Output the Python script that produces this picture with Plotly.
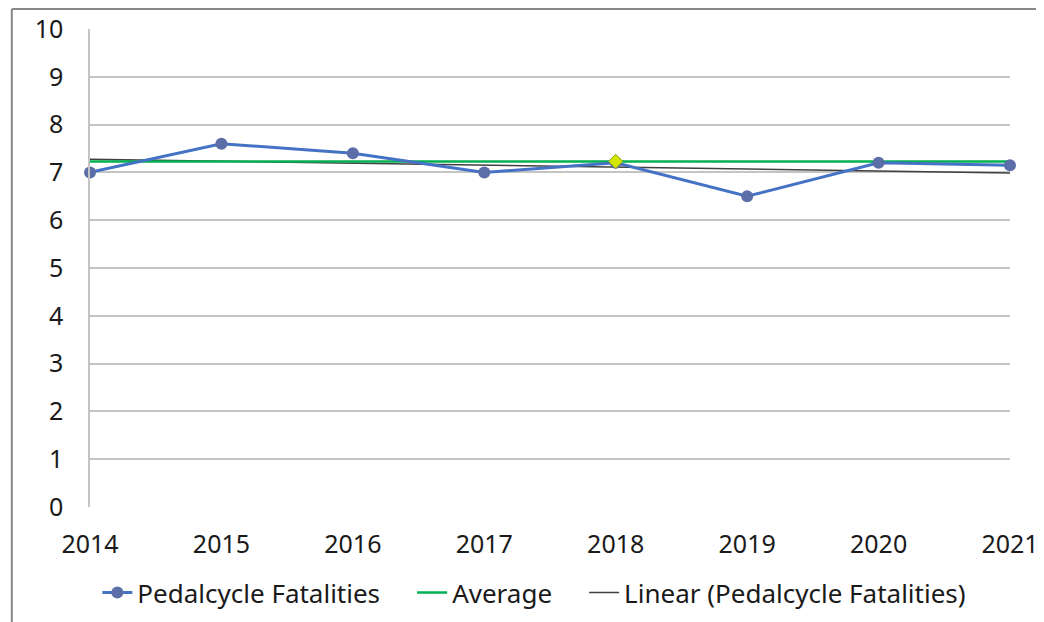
import numpy as np
import plotly.graph_objects as go

years = [2014, 2015, 2016, 2017, 2018, 2019, 2020, 2021]
fatalities = [7.0, 7.6, 7.4, 7.0, 7.2, 6.5, 7.2, 7.15]
average = [7.23] * len(years)
highlight_year = [2018]
highlight_val = [7.23]

# linear trend of fatalities
coef = np.polyfit(np.arange(len(years)), fatalities, 1)
trend = list(np.polyval(coef, np.arange(len(years))))

FONT = "Noto Sans"
PAD = "\u00a0" * 4

fig = go.Figure()
fig.add_trace(go.Scatter(
    x=years, y=trend, mode="lines", name="Linear (Pedalcycle Fatalities)",
    line=dict(color="#404040", width=1.5), legendrank=3, cliponaxis=False,
))
fig.add_trace(go.Scatter(
    x=years, y=average, mode="lines", name="Average" + PAD,
    line=dict(color="#00b050", width=2.5), legendrank=2, cliponaxis=False,
))
fig.add_trace(go.Scatter(
    x=years, y=fatalities, mode="lines+markers", name="Pedalcycle Fatalities" + PAD,
    line=dict(color="#4472c4", width=3), legendrank=1, cliponaxis=False,
    marker=dict(color="#5b6ea8", size=12, symbol="circle"),
))
fig.add_trace(go.Scatter(
    x=highlight_year, y=highlight_val, mode="markers", showlegend=False,
    cliponaxis=False,
    marker=dict(color="#d4e600", size=11, symbol="diamond",
                line=dict(color="#8aa020", width=1)),
))

fig.update_layout(
    width=1044, height=622,
    margin=dict(l=82, r=42, t=21, b=123),
    paper_bgcolor="white", plot_bgcolor="white",
    font=dict(family=FONT, size=25, color="#1a1a1a"),
    showlegend=True,
    legend=dict(orientation="h", x=0.008, xanchor="left", y=-0.13, yanchor="top",
                traceorder="normal", font=dict(size=26), itemwidth=30,
                bgcolor="rgba(0,0,0,0)"),
    xaxis=dict(range=[2014, 2021], tickmode="array", tickvals=years,
               ticktext=[str(y) for y in years], showgrid=False, automargin=False,
               zeroline=False, showline=False, ticks="", ticklabelstandoff=20),
    yaxis=dict(range=[0, 10], dtick=1, showgrid=True, gridcolor="#c4c4c4",
               gridwidth=1.5, zeroline=False, showline=True, linecolor="#c4c4c4",
               linewidth=1.5, ticks="", ticklabelstandoff=20, automargin=False),
)
fig.add_shape(type="line", xref="paper", yref="paper", x0=-0.085, x1=1.06,
              y0=(478 + 21 - 1) / 478, y1=(478 + 21 - 1) / 478,
              line=dict(color="#888888", width=2))
fig.add_shape(type="line", xref="paper", yref="paper", x0=-0.085, x1=-0.085,
              y0=(478 + 21 - 1) / 478, y1=-0.26,
              line=dict(color="#888888", width=2))

fig.write_html("out.html")
